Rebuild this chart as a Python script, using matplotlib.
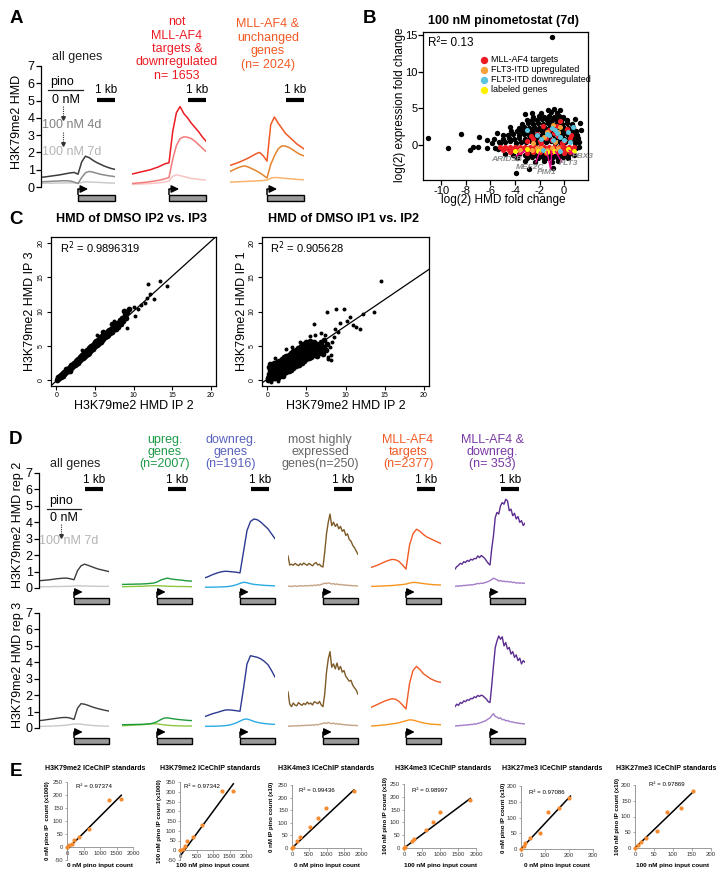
import matplotlib
matplotlib.use('Agg')
import matplotlib.pyplot as plt
from matplotlib.patches import Rectangle
from matplotlib.lines import Line2D

plt.rcParams['font.family'] = ['Liberation Sans', 'DejaVu Sans']
plt.rcParams['axes.unicode_minus'] = False

# ---------------- DATA ----------------
POS21 = [-2.0, -1.8, -1.6, -1.4, -1.2, -1.0, -0.8, -0.6, -0.4, -0.2, 0.0,
         0.2, 0.4, 0.6, 0.8, 1.0, 1.2, 1.4, 1.6, 1.8, 2.0]
POS41 = [-2.0, -1.9, -1.8, -1.7, -1.6, -1.5, -1.4, -1.3, -1.2, -1.1, -1.0,
         -0.9, -0.8, -0.7, -0.6, -0.5, -0.4, -0.3, -0.2, -0.1, 0.0,
         0.1, 0.2, 0.3, 0.4, 0.5, 0.6, 0.7, 0.8, 0.9, 1.0,
         1.1, 1.2, 1.3, 1.4, 1.5, 1.6, 1.7, 1.8, 1.9, 2.0]
GENE_START, GENE_END = 0.0, 2.0

# Panel A profiles (H3K79me2 HMD)
A_ALL_0NM = [0.56, 0.58, 0.61, 0.64, 0.67, 0.70, 0.74, 0.78, 0.82, 0.84, 0.74,
             1.45, 1.78, 1.70, 1.55, 1.42, 1.32, 1.22, 1.14, 1.07, 1.02]
A_ALL_4D = [0.30, 0.31, 0.32, 0.33, 0.34, 0.35, 0.36, 0.36, 0.34, 0.28, 0.20,
            0.55, 0.82, 0.90, 0.86, 0.80, 0.74, 0.70, 0.66, 0.63, 0.60]
A_ALL_7D = [0.22, 0.22, 0.22, 0.22, 0.23, 0.23, 0.23, 0.24, 0.24, 0.24, 0.22,
            0.26, 0.30, 0.29, 0.28, 0.27, 0.26, 0.25, 0.24, 0.23, 0.22]
A_NOT_0NM = [0.75, 0.80, 0.85, 0.90, 0.95, 1.00, 1.08, 1.15, 1.25, 1.35, 1.40,
             3.20, 4.30, 4.65, 4.25, 4.00, 3.70, 3.45, 3.20, 2.90, 2.65]
A_NOT_4D = [0.20, 0.22, 0.24, 0.26, 0.28, 0.31, 0.34, 0.38, 0.42, 0.48, 0.55,
            1.60, 2.40, 2.80, 2.90, 2.88, 2.80, 2.65, 2.45, 2.25, 2.05]
A_NOT_7D = [0.15, 0.16, 0.17, 0.18, 0.19, 0.20, 0.22, 0.24, 0.26, 0.30, 0.35,
            0.62, 0.70, 0.66, 0.60, 0.55, 0.50, 0.47, 0.44, 0.42, 0.40]
A_UNCH_0NM = [1.25, 1.32, 1.40, 1.48, 1.58, 1.68, 1.80, 1.92, 2.00, 1.80, 1.50,
              3.60, 4.05, 3.70, 3.40, 3.10, 2.90, 2.70, 2.50, 2.35, 2.20]
A_UNCH_4D = [0.90, 1.00, 1.10, 1.18, 1.22, 1.15, 1.05, 0.95, 0.82, 0.68, 0.52,
             1.30, 1.80, 2.20, 2.38, 2.36, 2.28, 2.15, 2.00, 1.88, 1.80]
A_UNCH_7D = [0.28, 0.29, 0.30, 0.31, 0.32, 0.33, 0.34, 0.35, 0.36, 0.38, 0.40,
             0.50, 0.55, 0.54, 0.52, 0.50, 0.48, 0.46, 0.44, 0.43, 0.42]
A_TITLES = ['all genes', 'not\nMLL-AF4\ntargets &\ndownregulated\nn= 1653',
            'MLL-AF4 &\nunchanged\ngenes\n(n= 2024)']
A_TITLE_COLORS = ['#222222', '#ed1c24', '#f15a24']

# Panel B scatter
B_BLACK = [(-5.3, 0.45), (-4.85, 0.35), (-4.4, 0.5), (-3.95, 0.3), (-3.5, 0.45), (-3.1, 0.35),
           (-2.7, 0.5), (-2.3, 0.3), (-1.9, 0.45), (-1.5, 0.35), (-1.1, 0.5), (-0.7, 0.3),
           (-0.3, 0.45), (0.1, 0.35), (0.5, 0.5), (0.9, 0.3), (1.2, 0.45),
           (-5.0, 0.85), (-4.5, 0.95), (-4.05, 0.8), (-3.65, 0.95), (-3.2, 0.85), (-2.8, 1.0),
           (-2.4, 0.85), (-2.0, 0.95), (-1.6, 0.8), (-1.2, 0.95), (-0.8, 0.85), (-0.4, 1.0),
           (0.0, 0.85), (0.4, 0.95), (0.8, 0.8), (1.15, 0.95),
           (-4.6, 1.35), (-4.15, 1.45), (-3.7, 1.3), (-3.3, 1.45), (-2.9, 1.35), (-2.5, 1.5),
           (-2.1, 1.35), (-1.7, 1.45), (-1.3, 1.3), (-0.9, 1.45), (-0.5, 1.35), (-0.1, 1.5),
           (0.3, 1.35), (0.7, 1.45), (1.05, 1.3),
           (-4.35, 1.85), (-3.85, 1.95), (-3.4, 1.85), (-3.0, 1.95), (-2.6, 1.85), (-2.2, 2.0),
           (-1.8, 1.85), (-1.4, 1.95), (-1.0, 1.85), (-0.6, 2.0), (-0.2, 1.85), (0.2, 1.95),
           (0.6, 1.85), (1.0, 1.95), (1.4, 2.0),
           (-3.7, 2.35), (-3.25, 2.45), (-2.85, 2.35), (-2.45, 2.5), (-2.05, 2.35), (-1.65, 2.45),
           (-1.25, 2.35), (-0.85, 2.5), (-0.45, 2.35), (-0.05, 2.45), (0.35, 2.35), (0.75, 2.5),
           (-3.4, 2.85), (-2.95, 2.95), (-2.55, 2.85), (-2.15, 3.0), (-1.75, 2.85), (-1.35, 2.95),
           (-0.95, 2.85), (-0.55, 3.0), (-0.15, 2.85), (0.25, 2.95), (0.65, 2.85), (1.3, 3.0),
           (-3.0, 3.35), (-2.6, 3.45), (-2.2, 3.35), (-1.8, 3.5), (-1.4, 3.35), (-1.0, 3.45),
           (-0.6, 3.35), (-0.2, 3.5), (0.2, 3.35), (0.9, 3.5),
           (-2.5, 3.85), (-2.05, 3.95), (-1.65, 3.85), (-1.25, 4.0), (-0.85, 3.85), (-0.45, 3.95),
           (-0.05, 3.85), (-3.2, 4.2), (-2.6, 4.35), (-1.85, 4.4), (-1.1, 4.45), (-0.6, 4.3),
           (-1.3, 4.8), (-0.85, 4.9), (-0.35, 4.75),
           (-5.5, 1.6), (-4.4, 2.5), (-5.7, 0.8), (-5.2, 0.2), (-5.0, 1.3),
           (-4.8, -1.3), (-4.2, -1.4), (-3.7, -1.3), (-3.2, -1.45), (-2.8, -1.3), (-2.4, -1.4),
           (-2.0, -1.3), (-1.6, -1.45), (-1.2, -1.3), (-0.8, -1.4), (-0.4, -1.3), (0.0, -1.45),
           (0.4, -1.3), (0.8, -1.35),
           (-3.8, -1.75), (-3.0, -1.8), (-2.6, -1.7), (-2.1, -1.85), (-1.7, -1.7), (-1.3, -1.8),
           (-0.9, -1.7), (-0.5, -1.85), (-0.1, -1.7), (0.3, -1.75),
           (-3.2, -2.2), (-2.4, -2.3), (-1.6, -2.15), (-1.0, -2.3), (-0.5, -2.2),
           (1.0, -0.5), (1.2, -0.3), (-5.4, -0.6),
           (-3.9, -3.9), (-2.9, -3.3), (-0.9, -3.1), (-1.0, 14.7), (-11.1, 1.0), (-9.45, -0.45),
           (-8.4, 1.45), (-7.7, -0.7), (-7.4, -0.3), (-6.9, 1.1), (-6.3, 0.6), (-6.3, -0.45),
           (-7.0, -0.3), (-5.9, 0.2), (-5.6, -0.5)]
B_RED = [(-5.2, -0.3), (-4.8, -0.25), (-4.4, -0.35), (-4.0, -0.25), (-3.6, -0.3), (-3.2, -0.25),
         (-2.8, -0.35), (-2.4, -0.25), (-2.0, -0.3), (-1.6, -0.25), (-1.2, -0.35), (-0.8, -0.25),
         (-0.4, -0.3), (0.0, -0.25), (0.4, -0.35), (0.8, -0.3),
         (-5.0, -0.65), (-4.6, -0.6), (-4.2, -0.7), (-3.8, -0.6), (-3.4, -0.65), (-3.0, -0.7),
         (-2.6, -0.6), (-2.2, -0.65), (-1.8, -0.7), (-1.4, -0.6), (-1.0, -0.65), (-0.6, -0.7),
         (-0.2, -0.6), (0.2, -0.65), (0.6, -0.7),
         (-4.4, -1.0), (-3.6, -0.95), (-3.0, -1.05), (-2.5, -1.0), (-2.0, -0.95), (-1.5, -1.05),
         (-1.0, -1.0), (-0.5, -0.95), (0.0, -1.05), (0.5, -1.0),
         (-3.0, 0.5), (-2.5, 0.8), (-2.0, 0.5), (-1.5, 1.0), (-1.0, 0.6), (-0.5, 1.2), (0.0, 0.5),
         (0.5, 0.9), (-1.2, 2.0), (-0.8, 1.6), (-0.3, 3.2), (0.6, 1.4), (-2.2, 1.5), (-1.7, 2.6),
         (-0.6, 2.6), (0.2, 2.1), (-1.9, 0.3), (-0.2, 0.3), (-1.4, 1.7), (-2.7, 1.2)]
B_ORANGE = [(-0.9, 2.7), (-0.5, 1.8), (-1.4, 1.8), (-2.5, 0.2), (-1.9, -0.5), (-1.4, -0.7),
            (-2.6, -0.7), (-0.5, -0.5), (-1.0, -0.5), (-1.6, 1.1), (-0.3, 2.5), (-3.6, -0.7),
            (-2.2, -0.4), (-0.7, 0.4)]
B_CYAN = [(-3.0, 2.0), (-1.9, 0.8), (-1.4, 1.5), (-0.9, 0.7), (-0.6, 1.6), (-0.3, 1.1), (0.0, 0.7),
          (0.3, 1.8), (0.7, 2.5), (-0.7, 2.0), (-1.2, 1.4), (-2.2, 1.4), (-1.7, -0.7), (-0.3, -0.9),
          (-1.0, 2.3), (0.5, 0.4)]
B_YELLOW = [(-4.0, -0.9), (-2.1, -0.8), (-1.4, -1.0), (-0.8, -0.9), (0.8, -0.8), (-3.0, -0.6),
            (0.3, -0.6)]
B_GENE_NAMES = ['ARID3B', 'MEF2C', 'PIM1', 'FLT3', 'PBX3']
B_GENE_TEXT_XY = [(-4.7, -1.95), (-2.76, -3.05), (-1.4, -3.8), (0.35, -2.55), (1.5, -1.6)]
B_GENE_LINES = [[((-3.9, -1.5), (-3.2, -0.85))],
                [((-2.3, -2.4), (-2.0, -1.0))],
                [((-1.1, -3.3), (-1.4, -0.95)), ((-1.1, -3.3), (-1.0, -0.9))],
                [((-0.2, -2.3), (-0.7, -0.9))],
                [((0.8, -1.3), (0.4, -0.75))]]
B_LEG_LABELS = ['MLL-AF4 targets', 'FLT3-ITD upregulated', 'FLT3-ITD downregulated', 'labeled genes']
B_LEG_COLORS = ['#ed1c24', '#f7a23b', '#5bc5e0', '#fff200']

# Panel C scatter: dense core and sparse outliers
C1_CORE = [(0.05, 0.0), (0.15, 0.2), (0.25, 0.1), (0.3, 0.35), (0.4, 0.25), (0.45, 0.55), (0.55, 0.4),
           (0.6, 0.7), (0.7, 0.55), (0.75, 0.85), (0.85, 0.7), (0.9, 1.0), (1.0, 0.85), (1.05, 1.2),
           (1.15, 1.0), (1.2, 1.35), (1.3, 1.15), (1.35, 1.5), (1.45, 1.3), (1.5, 1.65), (1.6, 1.45),
           (1.65, 1.8), (1.75, 1.6), (1.8, 1.95), (1.9, 1.7), (1.95, 2.1), (2.05, 1.85),
           (0.5, 0.5), (1.0, 1.0), (1.5, 1.5), (2.0, 2.0), (0.2, 0.45), (0.8, 0.6), (1.25, 1.6),
           (1.7, 1.35), (2.1, 2.3), (2.2, 2.0), (2.3, 2.5), (2.4, 2.15), (2.5, 2.7), (2.55, 2.35),
           (2.6, 2.55), (2.7, 2.95), (2.75, 2.5), (2.85, 3.1), (2.9, 2.7), (3.0, 3.3), (3.05, 2.85),
           (3.1, 3.05), (3.2, 3.5), (3.25, 3.0), (3.35, 3.65), (3.4, 3.2), (3.5, 3.85), (3.55, 3.35),
           (3.6, 3.6), (3.7, 4.05), (3.75, 3.5), (3.85, 4.2), (3.9, 3.7), (4.0, 4.4), (4.05, 3.85),
           (4.1, 4.1), (4.2, 4.6), (4.25, 4.0), (4.35, 4.75), (4.4, 4.25), (4.5, 4.95), (4.55, 4.4),
           (4.6, 4.6), (4.7, 5.15), (4.75, 4.55), (4.85, 5.3), (4.9, 4.8), (5.0, 5.5), (5.05, 4.95),
           (5.1, 5.2), (5.2, 5.7), (5.25, 5.1), (5.35, 5.85), (5.4, 5.3), (5.5, 6.0), (5.55, 5.45),
           (5.65, 5.75), (5.7, 6.2), (5.8, 5.6), (5.9, 6.35), (5.95, 5.85), (6.05, 6.5), (6.1, 6.0),
           (6.25, 6.7), (6.3, 6.2), (6.45, 6.85), (6.5, 6.4), (6.65, 7.1), (6.7, 6.55), (6.85, 7.3),
           (6.9, 6.8), (7.05, 7.5), (7.15, 7.0), (7.3, 7.8), (7.4, 7.3), (7.6, 8.0), (7.7, 7.5),
           (7.9, 8.3), (8.0, 7.8), (8.2, 8.7), (8.35, 8.2), (8.5, 9.0), (8.7, 8.6), (8.9, 9.5),
           (9.0, 9.0), (9.2, 9.9), (8.8, 10.1), (9.4, 10.3), (7.2, 8.1), (6.0, 7.0)]
C1_OUT = [(11.9, 14.0), (13.4, 14.5), (14.4, 13.7), (12.2, 12.6), (12.6, 11.8), (11.5, 11.3),
          (10.2, 9.3), (9.1, 7.6), (11.7, 12.0), (10.6, 10.4), (11.0, 11.0), (10.0, 10.6),
          (5.3, 6.5), (3.3, 4.3), (7.5, 8.6)]
C2_CORE = [(0.1, 0.0), (0.2, 0.4), (0.2, 0.9), (0.3, 0.2), (0.3, 1.4), (0.4, 0.6), (0.4, 1.8),
           (0.5, 0.1), (0.5, 1.1), (0.6, 0.5), (0.6, 1.5), (0.6, 2.2), (0.7, 0.9), (0.8, 0.3),
           (0.8, 1.3), (0.8, 1.9), (0.9, 0.7), (0.9, 2.4), (1.0, 0.2), (1.0, 1.1), (1.0, 1.6),
           (1.1, 0.5), (1.1, 2.1), (1.2, 0.9), (1.2, 1.4), (1.2, 2.6), (1.3, 0.3), (1.3, 1.8),
           (1.4, 0.7), (1.4, 1.2), (1.4, 2.3), (1.5, 1.6), (1.5, 2.8), (0.15, 0.6), (0.35, 1.0),
           (0.55, 0.8), (0.75, 1.2), (0.95, 1.3), (0.3, 2.3), (0.2, 1.9), (0.1, 0.3),
           (1.6, 0.5), (1.6, 1.1), (1.6, 2.0), (1.7, 1.4), (1.7, 2.5), (1.8, 0.8), (1.8, 1.8),
           (1.8, 3.0), (1.9, 1.2), (1.9, 2.2), (2.0, 0.6), (2.0, 1.6), (2.0, 2.7), (2.1, 1.0),
           (2.1, 2.0), (2.1, 3.3), (2.2, 1.4), (2.2, 2.4), (2.3, 1.8), (2.3, 2.9), (2.4, 1.1),
           (2.4, 2.2), (2.4, 3.5), (2.5, 1.6), (2.5, 2.6), (2.6, 2.0), (2.6, 3.1), (2.7, 1.3),
           (2.7, 2.4), (2.7, 3.7), (2.8, 1.8), (2.8, 2.8), (2.9, 2.2), (2.9, 3.3), (3.0, 1.5),
           (3.0, 2.6), (3.0, 3.9), (3.1, 2.0), (3.1, 3.0), (3.2, 2.4), (3.2, 3.5), (3.3, 1.8),
           (3.3, 2.8), (3.3, 4.2), (3.4, 2.2), (3.4, 3.2), (3.5, 2.6), (3.5, 3.8), (3.6, 2.0),
           (3.6, 3.0), (3.6, 4.4), (3.7, 2.5), (3.7, 3.5), (3.8, 2.9), (3.8, 4.0), (3.9, 2.3),
           (3.9, 3.3), (3.9, 4.7), (4.0, 2.8), (4.0, 3.8),
           (4.1, 2.2), (4.1, 3.2), (4.1, 4.3), (4.2, 2.7), (4.2, 3.7), (4.3, 3.1), (4.3, 4.1),
           (4.3, 5.0), (4.4, 2.5), (4.4, 3.5), (4.5, 3.0), (4.5, 4.0), (4.5, 4.6), (4.6, 3.4),
           (4.6, 5.2), (4.7, 2.8), (4.7, 3.8), (4.7, 4.4), (4.8, 3.2), (4.8, 4.2), (4.9, 3.6),
           (4.9, 4.9), (5.0, 3.0), (5.0, 4.0), (5.0, 5.5), (5.1, 3.4), (5.1, 4.5), (5.2, 3.8),
           (5.2, 5.0), (5.3, 3.2), (5.3, 4.2), (5.4, 3.6), (5.4, 4.7), (5.4, 5.7), (5.5, 4.0),
           (5.6, 3.4), (5.6, 4.4), (5.6, 5.2), (5.7, 3.8), (5.8, 4.2), (5.8, 5.0), (5.9, 3.6),
           (6.0, 4.5), (6.0, 5.6), (6.1, 4.0), (6.2, 4.8), (6.3, 3.5), (6.3, 5.3), (6.4, 4.3),
           (6.5, 5.0), (6.6, 3.9), (6.7, 4.7), (6.8, 5.5), (6.9, 4.2), (7.0, 5.0), (7.1, 3.8),
           (7.2, 4.6), (7.3, 5.8), (7.5, 4.4), (7.6, 5.2)]
C2_OUT = [(7.8, 3.0), (8.0, 4.8), (8.2, 2.9), (8.3, 5.5), (8.5, 6.2), (6.1, 6.5), (6.8, 6.9),
          (7.4, 6.6), (8.7, 7.4), (5.5, 6.4), (4.2, 5.6), (3.2, 4.8),
          (6.0, 8.2), (7.6, 10.0), (8.8, 10.3), (9.8, 10.3), (10.6, 9.2), (11.3, 7.8), (11.8, 7.4),
          (12.3, 9.7), (13.7, 10.0), (14.6, 14.4), (8.2, 3.6), (7.7, 3.3), (9.3, 8.3), (10.2, 8.6),
          (9.0, 7.0), (11.0, 8.0), (2.4, 4.5), (1.0, 3.2), (0.5, -0.3), (1.3, -0.2)]
C_FITS = [(-0.15, 1.02), (0.10, 0.776)]          # intercept, slope
C_R2 = ['R$^2$ = 0.9896319', 'R$^2$ = 0.905628']
C_TITLES = ['HMD of DMSO IP2 vs. IP3', 'HMD of DMSO IP1 vs. IP2']
C_YLABELS = ['H3K79me2 HMD IP 3', 'H3K79me2 HMD IP 1']

# Panel D profiles: rep 2 (top) and rep 3 (bottom)
D_ALL_R2 = [0.44, 0.46, 0.48, 0.50, 0.53, 0.56, 0.58, 0.60, 0.60, 0.56, 0.50,
            1.05, 1.35, 1.45, 1.38, 1.30, 1.22, 1.15, 1.10, 1.05, 1.00]
D_ALL_R2_P = [0.08, 0.08, 0.08, 0.08, 0.09, 0.09, 0.09, 0.10, 0.10, 0.11, 0.12,
              0.13, 0.13, 0.12, 0.12, 0.11, 0.11, 0.10, 0.10, 0.10, 0.10]
D_UP_R2 = [0.22, 0.22, 0.23, 0.23, 0.24, 0.24, 0.25, 0.26, 0.28, 0.30, 0.36,
           0.48, 0.55, 0.60, 0.55, 0.52, 0.50, 0.48, 0.45, 0.43, 0.42]
D_UP_R2_P = [0.08, 0.08, 0.09, 0.09, 0.10, 0.10, 0.11, 0.12, 0.13, 0.14, 0.14,
             0.13, 0.12, 0.11, 0.10, 0.10, 0.09, 0.09, 0.09, 0.08, 0.08]
D_DOWN_R2 = [0.62, 0.70, 0.80, 0.88, 0.95, 1.00, 1.02, 1.00, 0.98, 0.96, 0.92,
             2.20, 3.50, 4.05, 4.20, 4.15, 4.00, 3.80, 3.60, 3.30, 3.00]
D_DOWN_R2_P = [0.05, 0.05, 0.05, 0.06, 0.06, 0.07, 0.08, 0.10, 0.14, 0.20, 0.28,
               0.35, 0.32, 0.26, 0.22, 0.20, 0.18, 0.16, 0.15, 0.14, 0.13]
D_HIGH_R2 = [1.95, 1.40, 1.45, 1.38, 1.50, 1.42, 1.36, 1.48, 1.40, 1.52, 1.44, 1.38, 1.50, 1.42,
             1.35, 1.48, 1.55, 1.40, 1.45, 1.32, 1.28, 2.20, 3.30, 4.00, 4.50, 3.80, 4.00, 3.75,
             3.90, 3.60, 3.75, 3.45, 3.55, 3.20, 3.30, 2.95, 2.85, 2.60, 2.45, 2.25, 2.05]
D_HIGH_R2_P = [0.10, 0.12, 0.09, 0.11, 0.13, 0.10, 0.12, 0.14, 0.11, 0.13, 0.15, 0.12, 0.14,
               0.16, 0.13, 0.18, 0.15, 0.20, 0.17, 0.22, 0.25, 0.30, 0.26, 0.32, 0.28, 0.24,
               0.27, 0.22, 0.25, 0.20, 0.22, 0.18, 0.20, 0.16, 0.18, 0.14, 0.16, 0.13, 0.15,
               0.12, 0.13]
D_MLL_R2 = [1.25, 1.32, 1.40, 1.50, 1.60, 1.68, 1.74, 1.72, 1.62, 1.40, 1.15,
            2.60, 3.30, 3.58, 3.45, 3.25, 3.10, 3.00, 2.90, 2.80, 2.70]
D_MLL_R2_P = [0.10, 0.10, 0.11, 0.12, 0.13, 0.14, 0.15, 0.17, 0.19, 0.21, 0.24,
              0.30, 0.34, 0.33, 0.30, 0.27, 0.24, 0.22, 0.20, 0.19, 0.18]
D_MLLDN_R2 = [1.15, 1.30, 1.38, 1.50, 1.45, 1.60, 1.55, 1.68, 1.62, 1.75, 1.70, 1.80, 1.78,
              1.95, 1.85, 1.98, 1.90, 1.80, 1.65, 1.50, 1.40, 2.40, 3.20, 4.30, 4.60, 4.50,
              5.00, 5.20, 5.10, 5.40, 5.30, 4.70, 4.80, 4.40, 4.55, 4.20, 4.35, 4.00, 4.10,
              3.80, 3.95]
D_MLLDN_R2_P = [0.10, 0.12, 0.11, 0.14, 0.13, 0.16, 0.15, 0.18, 0.17, 0.20, 0.19, 0.22, 0.24,
                0.28, 0.26, 0.30, 0.28, 0.33, 0.35, 0.40, 0.45, 0.52, 0.60, 0.55, 0.50, 0.42,
                0.46, 0.40, 0.42, 0.38, 0.40, 0.36, 0.38, 0.33, 0.35, 0.30, 0.32, 0.29, 0.31,
                0.28, 0.30]
D_ALL_R3 = [0.45, 0.47, 0.50, 0.53, 0.56, 0.59, 0.62, 0.64, 0.64, 0.60, 0.52,
            1.20, 1.48, 1.45, 1.38, 1.30, 1.23, 1.17, 1.12, 1.07, 1.03]
D_ALL_R3_P = [0.10, 0.10, 0.11, 0.11, 0.12, 0.13, 0.14, 0.16, 0.18, 0.21, 0.24,
              0.25, 0.23, 0.20, 0.18, 0.16, 0.14, 0.13, 0.12, 0.11, 0.11]
D_UP_R3 = [0.20, 0.20, 0.21, 0.21, 0.22, 0.22, 0.23, 0.24, 0.26, 0.30, 0.38,
           0.50, 0.60, 0.62, 0.58, 0.55, 0.52, 0.50, 0.48, 0.46, 0.45]
D_UP_R3_P = [0.14, 0.15, 0.16, 0.17, 0.18, 0.19, 0.20, 0.22, 0.24, 0.26, 0.25,
             0.22, 0.19, 0.17, 0.15, 0.14, 0.13, 0.13, 0.12, 0.12, 0.12]
D_DOWN_R3 = [0.70, 0.78, 0.86, 0.92, 0.98, 1.05, 1.10, 1.10, 1.08, 1.05, 1.02,
             2.40, 3.90, 4.40, 4.35, 4.30, 4.20, 4.05, 3.85, 3.50, 3.10]
D_DOWN_R3_P = [0.10, 0.10, 0.11, 0.11, 0.12, 0.13, 0.15, 0.18, 0.24, 0.32, 0.42,
               0.52, 0.55, 0.48, 0.40, 0.34, 0.30, 0.27, 0.25, 0.23, 0.22]
D_HIGH_R3 = [2.20, 1.45, 1.30, 1.52, 1.40, 1.35, 1.55, 1.45, 1.38, 1.50, 1.42, 1.58, 1.46,
             1.52, 1.40, 1.60, 1.55, 1.48, 1.62, 1.40, 1.30, 2.10, 3.40, 4.20, 4.65, 3.70,
             3.90, 3.60, 3.95, 3.55, 3.75, 3.40, 3.50, 3.15, 3.00, 2.85, 2.90, 2.60, 2.45,
             2.30, 2.05]
D_HIGH_R3_P = [0.12, 0.10, 0.13, 0.11, 0.14, 0.12, 0.15, 0.13, 0.16, 0.14, 0.17, 0.15, 0.18,
               0.16, 0.19, 0.17, 0.21, 0.19, 0.23, 0.25, 0.28, 0.32, 0.27, 0.34, 0.29, 0.26,
               0.30, 0.24, 0.27, 0.22, 0.25, 0.20, 0.22, 0.18, 0.20, 0.16, 0.18, 0.15, 0.17,
               0.14, 0.15]
D_MLL_R3 = [1.26, 1.35, 1.45, 1.55, 1.65, 1.72, 1.78, 1.75, 1.62, 1.40, 1.16,
            2.70, 3.50, 3.75, 3.55, 3.30, 3.15, 3.00, 2.90, 2.82, 2.78]
D_MLL_R3_P = [0.12, 0.13, 0.15, 0.17, 0.19, 0.22, 0.25, 0.28, 0.32, 0.38, 0.44,
              0.50, 0.48, 0.42, 0.36, 0.31, 0.27, 0.24, 0.22, 0.21, 0.20]
D_MLLDN_R3 = [1.30, 1.45, 1.38, 1.55, 1.50, 1.65, 1.60, 1.72, 1.68, 1.80, 1.78, 1.90, 1.85,
              1.98, 1.92, 2.00, 1.95, 1.85, 1.75, 1.60, 1.55, 2.60, 3.80, 4.90, 5.30, 5.60,
              5.40, 5.55, 5.00, 5.20, 4.80, 4.90, 4.50, 4.65, 4.30, 4.45, 4.10, 4.25, 3.90,
              4.10, 4.00]
D_MLLDN_R3_P = [0.12, 0.14, 0.13, 0.16, 0.15, 0.18, 0.17, 0.20, 0.19, 0.22, 0.21, 0.25, 0.24,
                0.28, 0.30, 0.34, 0.38, 0.42, 0.48, 0.55, 0.62, 0.75, 0.87, 0.70, 0.66, 0.58,
                0.62, 0.50, 0.52, 0.44, 0.46, 0.40, 0.38, 0.36, 0.33, 0.32, 0.30, 0.28, 0.27,
                0.26, 0.25]
D_TITLES = ['all genes', 'upreg.\ngenes\n(n=2007)', 'downreg.\ngenes\n(n=1916)',
            'most highly\nexpressed\ngenes(n=250)', 'MLL-AF4\ntargets\n(n=2377)',
            'MLL-AF4 &\ndownreg.\n(n= 353)']
D_TITLE_COLORS = ['#222222', '#1f9a48', '#5a62bd', '#666666', '#f15a24', '#7a3aa3']
D_DARK = ['#3c3c3c', '#1e9b3c', '#2b3990', '#7d5a26', '#f15a24', '#5c2d91']
D_LIGHT = ['#c8c8c8', '#8dc63f', '#29abe2', '#c4a484', '#f7941d', '#a47cc8']

# Panel E ICeChIP standards
E_TITLES = ['H3K79me2 ICeChIP standards', 'H3K79me2 ICeChIP standards', 'H3K4me3 ICeChIP standards',
            'H3K4me3 ICeChIP standards', 'H3K27me3 ICeChIP standards', 'H3K27me3 ICeChIP standards']
E_XLABELS = ['0 nM pino input count', '100 nM pino input count', '0 nM pino input count',
             '100 nM pino input count', '0 nM pino input count', '100 nM pino input count']
E_YLABELS = ['0 nM pino IP  count (x1000)', '100 nM pino IP count (x1000)',
             '0 nM IP pino count (x10)', '100 nM pino IP count (x10)',
             '0 nM pino IP count (x10)', '100 nM pino IP count (x10)']
E_R2 = ['R² = 0.97374', 'R² = 0.97342', 'R² = 0.99436', 'R² = 0.98997', 'R² = 0.97086',
        'R² = 0.97869']
E1_X = [0, 70, 150, 200, 375, 660, 1270, 1645]
E1_Y = [0, 6, 13, 26, 38, 70, 179, 186]
E2_X = [0, 80, 150, 222, 404, 657, 1263, 1616]
E2_Y = [0, 8, 20, 46, 68, 128, 304, 304]
E3_X = [0, 30, 143, 238, 524, 762, 980, 1790]
E3_Y = [0, 4, 26, 43, 85, 118, 158, 226]
E4_X = [0, 20, 214, 279, 605, 819, 1005, 1842]
E4_Y = [0, 3, 26, 35, 71, 100, 140, 188]
E5_X = [0, 11, 18, 36, 81, 113, 160, 202]
E5_Y = [0, 9, 18, 34, 52, 116, 131, 163]
E6_X = [0, 9, 16, 29, 58, 84, 121, 152]
E6_Y = [0, 8, 20, 32, 55, 115, 128, 180]
E_FITS = [(0.127, -9.8, 30, 1645), (0.23, -31.0, 50, 1616), (0.1285, 0.0, 0, 1790),
          (0.105, 0.0, 0, 1842), (0.816, 0.0, 0, 206), (1.165, 0.0, 0, 152)]
E_YLIMS = [(-50, 250), (-50, 350), (0, 250), (0, 250), (0, 200), (0, 200)]
E_XMAX = [2000, 2000, 2000, 2000, 300, 200]
E_XSTEP = [500, 500, 500, 500, 100, 50]

# ---------------- FIGURE ----------------
W, H = 728, 883
fig = plt.figure(figsize=(W / 100, H / 100), dpi=100)
fig.patch.set_facecolor('white')


def add_ax(l, t, r, b):
    return fig.add_axes([l / W, 1 - b / H, (r - l) / W, (b - t) / H])


def ftxt(x, y, s, **kw):
    kw.setdefault('ha', 'center')
    kw.setdefault('va', 'center')
    return fig.text(x / W, 1 - y / H, s, **kw)


def fline(xs, ys, **kw):
    fig.add_artist(Line2D([x / W for x in xs], [1 - y / H for y in ys],
                          transform=fig.transFigure, **kw))


def dotted_arrow(x, y0, y1):
    fline([x, x], [y0, y1 - 2], color='#333333', lw=0.8, ls=(0, (1, 1)))
    fline([x], [y1 - 1.5], color='#333333', marker='v', markersize=2.6, lw=0)


def profile_ax(l, t, r, b, zero, ppu):
    ax = add_ax(l, t, r, b)
    ax.set_xlim(-2, 2)
    ax.set_ylim((zero - b) / ppu, (zero - t) / ppu)
    ax.patch.set_alpha(0)
    for s in ax.spines.values():
        s.set_visible(False)
    ax.set_xticks([])
    ax.set_yticks([])
    return ax


def gene_model(ax, zero, ppu, box_top, box_h, up, arr_len):
    ytop = (zero - box_top) / ppu
    h = box_h / ppu
    ax.add_patch(Rectangle((GENE_START, ytop - h), GENE_END - GENE_START, h,
                           fc='#9a9a9a', ec='black', lw=1.0, clip_on=False))
    ya = (zero - (box_top - up)) / ppu
    ax.plot([GENE_START, GENE_START], [ytop, ya], color='black', lw=1.1,
            clip_on=False, solid_capstyle='butt')
    ax.annotate('', xy=(GENE_START + arr_len, ya), xytext=(GENE_START, ya),
                arrowprops=dict(arrowstyle='-|>,head_length=0.45,head_width=0.22',
                                color='black', lw=1.1, shrinkA=0, shrinkB=0),
                annotation_clip=False)


def scale_bar(ax, zero, ppu, x0, x1, bar_px, txt_px):
    yb = (zero - bar_px) / ppu
    ax.plot([x0, x1], [yb, yb], color='black', lw=3.0, solid_capstyle='butt', clip_on=False)
    ax.text((x0 + x1) / 2, (zero - txt_px) / ppu, '1 kb', ha='center', va='center',
            fontsize=8.5)


def y_axis(ax):
    ax.spines['left'].set_visible(True)
    ax.spines['left'].set_bounds(0, 7)
    ax.spines['left'].set_linewidth(0.9)
    ax.set_yticks(range(8))
    ax.tick_params(axis='y', labelsize=9, length=3.5, width=0.9, pad=1)


# ---- Panel letters
for letter, (lx, ly) in zip('ABCDE', [(16.5, 18.5), (370, 18.5), (15.5, 220), (15.5, 440), (16, 772)]):
    ftxt(lx, ly, letter, fontsize=13.5, fontweight='bold')

# ---- Panel A
A_ZERO, A_PPU = 187, 17.29
A_LEFTS = [41, 132, 230]
A_CURVES = [[(A_ALL_0NM, '#3c3c3c'), (A_ALL_4D, '#8c8c8c'), (A_ALL_7D, '#cccccc')],
            [(A_NOT_0NM, '#ed1c24'), (A_NOT_4D, '#f37a7a'), (A_NOT_7D, '#f9c4c4')],
            [(A_UNCH_0NM, '#f15a24'), (A_UNCH_4D, '#e3842c'), (A_UNCH_7D, '#fbb46b')]]
for i, l in enumerate(A_LEFTS):
    ax = profile_ax(l, 60, l + 74, 205, A_ZERO, A_PPU)
    for vals, col in A_CURVES[i][::-1]:
        ax.plot(POS21, vals, color=col, lw=1.1)
    gene_model(ax, A_ZERO, A_PPU, 195, 6, 6, 0.55)
    scale_bar(ax, A_ZERO, A_PPU, 1.0, 2.0, 99.5, 90)
    if i == 0:
        y_axis(ax)
ftxt(77, 57, A_TITLES[0], fontsize=9, color=A_TITLE_COLORS[0])
ftxt(177, 49, A_TITLES[1], fontsize=9, color=A_TITLE_COLORS[1], linespacing=1.15)
ftxt(268, 44.5, A_TITLES[2], fontsize=9, color=A_TITLE_COLORS[2], linespacing=1.15)
ftxt(17, 122, 'H3K79me2 HMD', fontsize=9, rotation=90)
ftxt(62, 82, 'pino', fontsize=9)
fline([48, 83], [90, 90], color='#222222', lw=0.9)
ftxt(66, 100, '0 nM', fontsize=9)
dotted_arrow(63, 106, 119)
ftxt(72, 125, '100 nM 4d', fontsize=9, color='#808080')
dotted_arrow(63, 132, 145)
ftxt(72, 152, '100 nM 7d', fontsize=9, color='#b4b4b4')

# ---- Panel B
axb = add_ax(423, 32, 588, 180)
axb.set_xlim(-11.5, 1.95)
axb.set_ylim(-4.8, 15.4)
for pts, col, sz in [(B_BLACK, 'black', 15), (B_RED, B_LEG_COLORS[0], 14),
                     (B_ORANGE, B_LEG_COLORS[1], 13), (B_CYAN, B_LEG_COLORS[2], 13),
                     (B_YELLOW, B_LEG_COLORS[3], 13)]:
    axb.scatter([p[0] for p in pts], [p[1] for p in pts], s=sz, color=col, lw=0, zorder=3)
for name, (tx, ty), segs in zip(B_GENE_NAMES, B_GENE_TEXT_XY, B_GENE_LINES):
    for (x0, y0), (x1, y1) in segs:
        axb.plot([x0, x1], [y0, y1], color='#ec008c', lw=1.0, zorder=4)
    axb.text(tx, ty, name, fontsize=6.0, fontweight='bold', fontstyle='italic',
             color='#8c8c8c', ha='center', va='center', zorder=5)
axb.set_xticks([-10, -8, -6, -4, -2, 0])
axb.set_yticks([0, 5, 10, 15])
axb.tick_params(labelsize=8, length=3.5, width=0.9, pad=0.5)
for s in axb.spines.values():
    s.set_linewidth(0.9)
ftxt(503, 21, '100 nM pinometostat (7d)', fontsize=9, fontweight='bold')
ftxt(503, 200, 'log(2) HMD fold change', fontsize=8.5)
ftxt(400, 105, 'log(2) expression fold change', fontsize=8.5, rotation=90)
ftxt(428, 43, 'R²= 0.13', fontsize=8.5, ha='left')
for k, (lab, col) in enumerate(zip(B_LEG_LABELS, B_LEG_COLORS)):
    yy = 59.5 + 10 * k
    fline([484], [yy], marker='o', markersize=4.3, color=col, lw=0)
    ftxt(491, yy, lab, fontsize=6.5, ha='left')

# ---- Panel C
C_BOXES = [(51, 237, 216, 386), (262, 237, 429, 386)]
C_TITLE_X = [132, 344]
C_R2_X = [60, 270]
C_YLAB_X = [30, 242]
for j, (core, outl) in enumerate([(C1_CORE, C1_OUT), (C2_CORE, C2_OUT)]):
    l, t, r, b = C_BOXES[j]
    ax = add_ax(l, t, r, b)
    ax.set_xlim(-0.7, 20.7)
    ax.set_ylim(-0.9, 20.9)
    ax.scatter([p[0] for p in core], [p[1] for p in core], s=17, color='black', lw=0, zorder=3)
    ax.scatter([p[0] for p in outl], [p[1] for p in outl], s=8, color='black', lw=0, zorder=3)
    a0, sl = C_FITS[j]
    ax.plot([-0.7, 20.7], [a0 + sl * -0.7, a0 + sl * 20.7], color='black', lw=0.9, zorder=4)
    ax.set_xticks([0, 5, 10, 15, 20])
    ax.set_yticks([0, 5, 10, 15, 20])
    ax.tick_params(labelsize=5, length=3, width=0.8, pad=1.5)
    for lab in ax.get_yticklabels():
        lab.set_rotation(90)
        lab.set_va('center')
    for s in ax.spines.values():
        s.set_linewidth(0.9)
    ftxt(C_TITLE_X[j], 219, C_TITLES[j], fontsize=9, fontweight='bold')
    ftxt(C_R2_X[j], 248, C_R2[j], fontsize=8, ha='left')
    ftxt((l + r) / 2, 406, 'H3K79me2 HMD IP 2', fontsize=9)
    ftxt(C_YLAB_X[j], (t + b) / 2, C_YLABELS[j], fontsize=9, rotation=90)

# ---- Panel D
D_PPU = 16.43
D_LEFTS = [39, 122, 205, 288, 371, 455]
D_ROWS = [
    (470, 606, 588, [(D_ALL_R2, D_ALL_R2_P), (D_UP_R2, D_UP_R2_P), (D_DOWN_R2, D_DOWN_R2_P),
                     (D_HIGH_R2, D_HIGH_R2_P), (D_MLL_R2, D_MLL_R2_P), (D_MLLDN_R2, D_MLLDN_R2_P)]),
    (610, 746, 728, [(D_ALL_R3, D_ALL_R3_P), (D_UP_R3, D_UP_R3_P), (D_DOWN_R3, D_DOWN_R3_P),
                     (D_HIGH_R3, D_HIGH_R3_P), (D_MLL_R3, D_MLL_R3_P), (D_MLLDN_R3, D_MLLDN_R3_P)]),
]
for row, (t, b, zero, curves) in enumerate(D_ROWS):
    for i, l in enumerate(D_LEFTS):
        ax = profile_ax(l, t, l + 70, b, zero, D_PPU)
        dark, light = curves[i]
        ax.plot(POS21 if len(light) == 21 else POS41, light, color=D_LIGHT[i], lw=1.0)
        ax.plot(POS21 if len(dark) == 21 else POS41, dark, color=D_DARK[i], lw=1.0)
        gene_model(ax, zero, D_PPU, zero + 10, 5.5, 6, 0.5)
        if row == 0:
            scale_bar(ax, zero, D_PPU, 0.63, 1.63, 489, 480)
        if i == 0:
            y_axis(ax)
ftxt(75, 464, D_TITLES[0], fontsize=9, color=D_TITLE_COLORS[0])
for k, cx in zip(range(1, 6), [165, 231, 320, 408, 492]):
    ftxt(cx, 452, D_TITLES[k], fontsize=9, color=D_TITLE_COLORS[k], linespacing=1.0)
ftxt(18, 525, 'H3K79me2 HMD rep 2', fontsize=9, rotation=90)
ftxt(18, 665, 'H3K79me2 HMD rep 3', fontsize=9, rotation=90)
ftxt(61, 501, 'pino', fontsize=9)
fline([47, 81], [509, 509], color='#222222', lw=0.9)
ftxt(64, 518, '0 nM', fontsize=9)
dotted_arrow(61, 524, 537)
ftxt(69, 541, '100 nM 7d', fontsize=9, color='#b4b4b4')

# ---- Panel E
E_DATA = [(E1_X, E1_Y), (E2_X, E2_Y), (E3_X, E3_Y), (E4_X, E4_Y), (E5_X, E5_Y), (E6_X, E6_Y)]
E_AX_X = [(67, 133), (180, 246), (292, 361), (404, 476), (521, 593), (635, 711)]
E_AX_Y = [(782, 860), (782, 860), (785, 848), (784, 848), (786, 849), (785, 848)]
E_TITLE_X = [95, 210, 326, 443, 552, 666]
E_YLAB_X = [48, 160, 272, 386, 503, 617]
E_R2_XY = [(76, 786), (184, 787), (299, 790), (412, 790), (529, 792), (649, 785)]
for k in range(6):
    (l, r), (t, b) = E_AX_X[k], E_AX_Y[k]
    ax = add_ax(l, t, r, b)
    y0, y1 = E_YLIMS[k]
    ax.set_xlim(0, E_XMAX[k])
    ax.set_ylim(y0, y1)
    xs, ys = E_DATA[k]
    sl, ic, fx0, fx1 = E_FITS[k]
    ax.plot([fx0, fx1], [ic + sl * fx0, ic + sl * fx1], color='black', lw=1.1, zorder=3,
            clip_on=False)
    ax.scatter(xs, ys, s=9, color='#f58a2e', lw=0, zorder=4, clip_on=False)
    ax.set_xticks(range(0, E_XMAX[k] + 1, E_XSTEP[k]))
    ax.set_yticks(range(y0, y1 + 1, 50))
    ax.spines['top'].set_visible(False)
    ax.spines['right'].set_visible(False)
    ax.spines['bottom'].set_position(('data', 0))
    for s in ('left', 'bottom'):
        ax.spines[s].set_linewidth(0.6)
        ax.spines[s].set_color('#8a8a8a')
    ax.tick_params(labelsize=4.3, length=1.8, width=0.5, pad=1, colors='#8a8a8a',
                   labelcolor='#333333')
    ax.patch.set_alpha(0)
    ftxt(E_TITLE_X[k], 768, E_TITLES[k], fontsize=5, fontweight='bold')
    ftxt((l + r) / 2, 865, E_XLABELS[k], fontsize=4.6, fontweight='bold')
    ftxt(E_YLAB_X[k], (t + b) / 2, E_YLABELS[k], fontsize=4.4, fontweight='bold', rotation=90)
    ftxt(E_R2_XY[k][0], E_R2_XY[k][1], E_R2[k], fontsize=4.4, ha='left')

fig.savefig('out.png', dpi=100)
